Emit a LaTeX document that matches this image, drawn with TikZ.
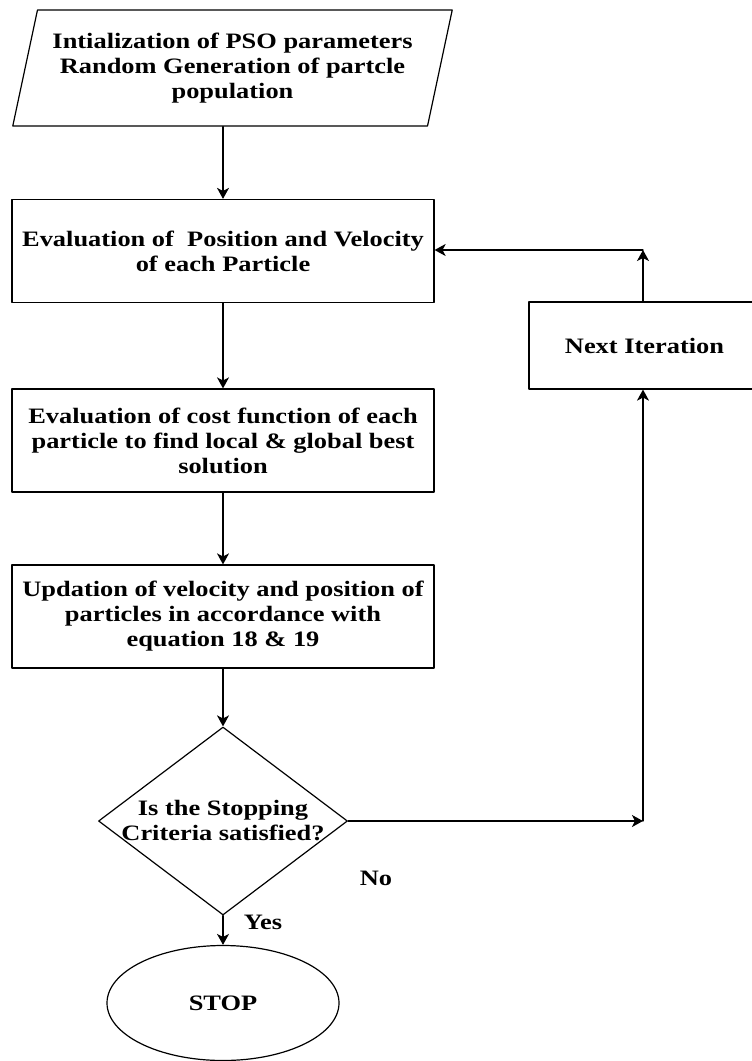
\documentclass[tikz,border=0pt]{standalone}
\usepackage{fontspec}
\setmainfont[FakeStretch=1.2]{Liberation Serif}
\usetikzlibrary{shapes.geometric,arrows.meta}
\begin{document}
\begin{tikzpicture}[x=1pt,y=-1pt,line cap=round,line join=round,
  every node/.style={font=\fontsize{22}{25}\selectfont\bfseries,align=center,inner sep=0pt},
  box/.style={draw,line width=1.2pt,minimum width=422pt,minimum height=103pt},
  arr/.style={line width=1.2pt,-{Stealth[length=11pt,width=12pt,inset=3pt]}}]
  \useasboundingbox (0,0) rectangle (752,1061);
  % main column
  \node[draw,line width=1.2pt,trapezium,trapezium left angle=72,trapezium right angle=108,
    trapezium stretches=true,minimum width=441pt,minimum height=116pt] (init) at (232.5,68)
    {Intialization of PSO parameters\\Random Generation of partcle\\population};
  \node[box] (eval) at (223,251) {Evaluation of\ \ Position and Velocity\\of each Particle};
  \node[box] (cost) at (223,440.5) {Evaluation of cost function of each\\particle to find local \& global best\\solution};
  \node[box] (upd) at (223,616.5) {Updation of velocity and position of\\particles in accordance with\\equation 18 \& 19};
  \node[draw,line width=1.2pt,diamond,minimum width=249pt,minimum height=188pt] (crit) at (223,821) {};
  \node (crittext) at (crit.center) {Is the Stopping\\Criteria satisfied?};
  \node[draw,line width=1.2pt,ellipse,minimum width=232pt,minimum height=115pt] (stop) at (223,1003) {STOP};
  % loop back
  \node[draw,line width=1.2pt,minimum width=231pt,minimum height=87pt] (next) at (644.5,345.5) {Next Iteration};
  \coordinate (nobend) at (643,821);
  \coordinate (upbend) at (643,250);
  \node (no) at (376,878) {No};
  \node (yes) at (263,922) {Yes};
  \draw[arr] (init.south -| eval.north) -- (eval.north);
  \draw[arr] (eval) -- (cost);
  \draw[arr] (cost) -- (upd);
  \draw[arr] (upd) -- (crit);
  \draw[arr] (crit) -- (stop);
  \draw[arr] (crit.east) -- (nobend);
  \draw[arr] (nobend) -- (nobend |- next.south);
  \draw[arr] (nobend |- next.north) -- (upbend);
  \draw[arr] (upbend) -- (eval.east |- upbend);
\end{tikzpicture}
\end{document}
